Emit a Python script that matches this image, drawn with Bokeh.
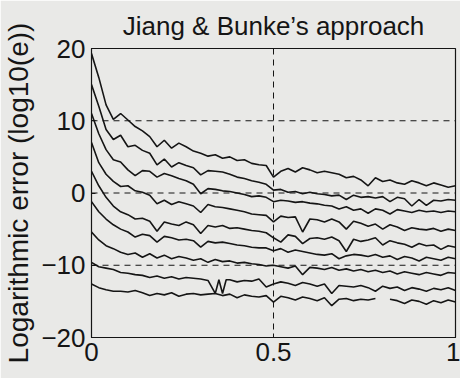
import math
from bokeh.plotting import figure
from bokeh.models import FixedTicker, Span, Range1d
from bokeh.embed import file_html
from bokeh.resources import INLINE

NAN = float("nan")

x_grid = [i / 50 for i in range(51)]

curve_a = [19.3, 16.0, 12.2, 10.2, 11.0, 10.1, 9.2, 8.6, 7.8, 6.4, 7.3, 6.2, 6.9, 6.4, 5.8, 5.5,
           5.1, 5.3, 4.8, 5.0, 4.5, 4.6, 4.1, 3.9, 3.8, 2.2, 3.0, 3.4, 2.9, 3.5, 3.2, 2.8, 3.0,
           2.8, 2.6, 2.1, 2.3, 1.8, 1.0, 2.1, 1.6, 1.8, 1.4, 1.2, 1.7, 1.4, 1.0, 1.4, 1.1, 0.8, 1.0]
curve_b = [15.0, 12.0, 8.8, 7.4, 8.0, 6.4, 6.6, 5.9, 5.5, 3.9, 4.7, 3.6, 4.2, 3.8, 3.5, 2.5,
           3.1, 3.0, 2.9, 2.6, 2.2, 2.0, 1.7, 1.5, 1.2, 0.4, 0.5, 0.1, 0.2, -0.1, 0.1, -0.1, -0.2,
           -0.4, -0.3, -0.9, -0.3, -0.6, -0.5, -0.7, -0.5, -1.2, -0.6, -0.8, -1.8, -0.9, -1.7,
           -1.0, -1.1, -0.9, -1.0]
curve_c = [11.0, 8.2, 6.0, 4.6, 4.3, 3.2, 2.4, 3.1, 3.0, 2.2, 2.7, 2.4, 2.0, 1.7, 1.2, -0.1,
           0.6, 0.5, 0.3, 0.2, 0.0, -0.2, -0.5, -0.4, -0.6, -1.2, -1.0, -1.1, -1.3, -1.2, -1.4,
           -1.5, -1.7, -1.8, -2.2, -1.9, -2.4, -2.2, -2.8, -2.2, -2.4, -2.9, -2.3, -2.5, -2.7,
           -2.4, -2.6, -2.5, -2.7, -2.5, -2.6]
curve_d = [7.0, 4.2, 2.6, 1.6, 0.9, 1.0, 0.3, 0.1, -0.3, -1.5, -1.0, -1.6, -1.2, -1.5, -1.8,
           -2.7, -1.6, -1.9, -2.0, -2.2, -2.4, -2.6, -2.9, -3.0, -3.1, -4.0, -3.2, -3.4, -3.3,
           -5.4, -3.6, -3.7, -4.0, -3.6, -4.0, -5.0, -3.9, -4.2, -4.6, -4.3, -5.0, -4.4, -4.7,
           -5.2, -4.8, -5.0, -5.1, -4.9, -5.3, -5.0, -5.2]
curve_e = [3.0, 1.0, -0.6, -1.8, -2.6, -3.0, -3.6, -3.5, -3.9, -5.3, -4.0, -4.3, -4.5, -4.0,
           -4.4, -5.6, -4.5, -4.7, -4.5, -4.9, -4.8, -5.0, -5.2, -5.3, -5.5, -6.2, -6.8, -5.8,
           -6.0, -7.0, -6.3, -6.2, -6.4, -6.1, -6.6, -8.1, -6.4, -6.7, -6.5, -6.2, -7.2, -6.6,
           -6.9, -7.1, -7.5, -7.0, -7.3, -7.2, -7.8, -7.3, -7.5]
curve_f = [-1.2, -2.6, -3.6, -4.4, -5.0, -5.4, -6.1, -5.7, -5.9, -6.8, -6.0, -6.2, -6.5, -6.4,
           -6.6, -7.5, -6.7, -6.9, -6.8, -7.0, -7.2, -7.3, -7.5, -7.6, -7.6, -8.0, -7.7, -8.2,
           -7.9, -8.1, -8.3, -8.5, -8.6, -8.4, -9.1, -8.7, -8.5, -8.6, -8.8, -8.5, -8.9, -8.7,
           -9.2, -8.8, -9.0, -9.4, -8.9, -9.1, -9.3, -8.9, -9.1]
curve_g = [-5.4, -6.5, -7.3, -7.7, -8.2, -8.5, -8.3, -8.9, -8.4, -9.0, -8.6, -9.1, -8.8, -9.0,
           -9.3, -9.1, -9.6, -9.2, -9.5, -9.4, -9.7, -9.6, -9.8, -9.9, -10.1, -10.0, -10.2,
           -10.4, -10.1, -11.3, -10.3, -10.4, -10.6, -10.3, -10.7, -10.5, -10.8, -10.6, -10.9,
           -10.7, -11.0, -10.8, -11.2, -10.9, -11.1, -11.3, -11.0, -11.2, -11.4, -11.0, -11.1]
x_h = [0.0, 0.02, 0.04, 0.06, 0.08, 0.10, 0.12, 0.14, 0.16, 0.18, 0.20, 0.22, 0.24, 0.26,
       0.28, 0.30, 0.32, 0.34, 0.35, 0.36, 0.37, 0.38, 0.40, 0.42, 0.44, 0.46, 0.48, 0.50,
       0.52, 0.54, 0.56, 0.58, 0.60, 0.62, 0.64, 0.66, 0.68, 0.70, 0.72, 0.74, 0.76, 0.78,
       0.80, 0.82, 0.84, 0.86, 0.88, 0.90, 0.92, 0.94, 0.96, 0.98, 1.00]
curve_h = [-9.6, -10.2, -10.4, -10.6, -11.0, -11.1, -11.3, -11.4, -11.7, -11.5, -11.8, -11.6,
           -11.9, -11.7, -11.8, -11.9, -12.1, -13.9, -12.0, -13.9, -12.0, -12.0, -12.3, -12.1,
           -12.2, -11.9, -13.0, -12.6, -12.3, -12.5, -12.8, -12.4, -12.6, -12.9, -12.6, -13.9,
           -12.8, -12.9, -13.0, -12.8, -13.1, -13.6, -12.9, -13.2, -13.0, -13.5, -13.1, -13.3,
           -13.6, -13.2, -13.4, -13.1, -13.5]
curve_i = [-12.6, -13.1, -13.4, -13.6, -13.6, -13.7, -13.5, -13.8, -14.2, -13.9, -14.1, -13.8,
           -14.3, -14.0, -13.9, -14.1, -14.0, -13.9, -14.2, -14.0, -14.5, -14.1, -14.3, -14.4,
           -14.2, -15.1, -14.3, -14.5, -14.8, -14.4, -14.6, -14.9, -14.5, -15.6, -14.7, -14.6,
           -14.9, -14.7, -14.8, -14.6, NAN, -14.7, -14.9, -15.3, -14.8, -15.0, -15.4, -14.9,
           -15.2, -14.8, -15.1]

x_ticks = [0, 0.5, 1]
y_ticks = [-20, -10, 0, 10, 20]
x_grid_lines = [0.5]
y_grid_lines = [-10, 0, 10]

title_text = "Jiang & Bunke\u2019s approach"
y_label = "Logarithmic error (log10(e))"

FONT = "Liberation Sans"
PAPER = "#e9e9e7"
INK = "#151515"

p = figure(width=460, height=378, output_backend="svg", toolbar_location=None,
           x_range=Range1d(0, 1), y_range=Range1d(-20, 20),
           min_border_left=83, min_border_right=5, min_border_top=48, min_border_bottom=41,
           background_fill_color=PAPER, border_fill_color=PAPER)

p.title.text = title_text
p.title.align = "center"
p.title.text_font = FONT
p.title.text_font_size = "26px"
p.title.text_font_style = "normal"
p.title.text_color = INK
p.title.standoff = 16

p.outline_line_color = INK
p.outline_line_width = 1.2
p.xgrid.visible = False
p.ygrid.visible = False

for ax in (p.xaxis[0], p.yaxis[0]):
    ax.major_label_text_font = FONT
    ax.major_label_text_font_size = "26px"
    ax.major_label_text_color = INK
    ax.axis_line_color = INK
    ax.major_tick_line_color = INK
    ax.major_tick_in = 4
    ax.major_tick_out = 0
    ax.minor_tick_line_color = None

p.xaxis[0].ticker = FixedTicker(ticks=x_ticks)
p.xaxis[0].major_label_overrides = {0: "0", 0.5: "0.5", 1: "1"}
p.xaxis[0].major_label_standoff = 5
p.yaxis[0].ticker = FixedTicker(ticks=y_ticks)
p.yaxis[0].major_label_standoff = 6
p.yaxis[0].axis_label = y_label
p.yaxis[0].axis_label_text_font = FONT
p.yaxis[0].axis_label_text_font_size = "28px"
p.yaxis[0].axis_label_text_font_style = "normal"
p.yaxis[0].axis_label_text_color = INK
p.yaxis[0].axis_label_standoff = 4

for yv in y_grid_lines:
    p.add_layout(Span(location=yv, dimension="width", line_color=INK, line_width=1,
                      line_dash="6 5"))
for xv in x_grid_lines:
    p.add_layout(Span(location=xv, dimension="height", line_color=INK, line_width=1,
                      line_dash="6 5"))

for ys in (curve_a, curve_b, curve_c, curve_d, curve_e, curve_f, curve_g, curve_i):
    p.line(x_grid, ys, line_color=INK, line_width=1.6)
p.line(x_h, curve_h, line_color=INK, line_width=1.6)

open("out.html", "w").write(file_html(p, INLINE))
